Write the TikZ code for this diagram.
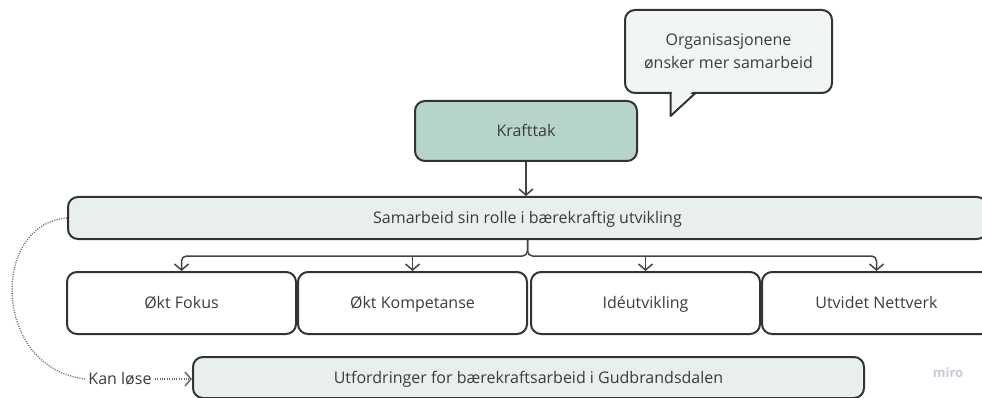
\documentclass[tikz,border=0pt]{standalone}
\usepackage{fontspec}
\setmainfont{Open Sans}
\usetikzlibrary{arrows.meta}
\definecolor{txt}{HTML}{3C3C3C}
\definecolor{edge}{HTML}{333333}
\definecolor{conncol}{HTML}{444444}
\definecolor{kraftfill}{HTML}{B6D3CC}
\definecolor{barfill}{HTML}{E9EFEE}
\definecolor{bubblefill}{HTML}{F1F5F5}
\definecolor{dotcol}{HTML}{6A6A6A}
\definecolor{mirocol}{HTML}{C9C9D9}
\tikzset{
  shell/.style={draw=edge, line width=2pt, rounded corners=10pt, text=txt,
    font=\fontsize{16}{19}\selectfont, inner sep=0pt, anchor=center},
  box/.style={shell, text height=14pt, text depth=2.4pt},
  conn/.style={draw=conncol, line width=1.5pt,
    -{Straight Barb[length=6pt,width=14pt,line width=1.5pt]}},
  dotline/.style={draw=dotcol, line width=1.4pt, dash pattern=on 1pt off 1.4pt},
}
\begin{document}
\begin{tikzpicture}[x=1pt,y=-1pt]
\useasboundingbox (0,0) rectangle (982,398);
% speech bubble
\node[shell, fill=bubblefill, minimum width=207pt, minimum height=83pt, align=center] (bubble) at (728.5,51.5) {Organisasjonene\\[4pt]ønsker mer samarbeid};
\fill[bubblefill] (671.5,91) -- (671.5,114) -- (693,91) -- cycle;
\draw[edge, line width=2pt, line join=round] (670.5,92.5) -- (670.5,116) -- (696,92.5);
% Krafttak
\node[box, fill=kraftfill, minimum width=222pt, minimum height=60pt] (kraft) at (526,131) {Krafttak};
% Samarbeid bar
\node[box, fill=barfill, minimum width=919pt, minimum height=42pt] (samarbeid) at (527.5,218) {Samarbeid sin rolle i bærekraftig utvikling};
\draw[conn] (kraft.south) -- (samarbeid.north -| kraft.south);
% four boxes
\node[box, minimum width=229pt, minimum height=62pt] (b1) at (181.5,303) {Økt Fokus};
\node[box, minimum width=229pt, minimum height=62pt] (b2) at (412.5,303) {Økt Kompetanse};
\node[box, minimum width=229pt, minimum height=62pt] (b3) at (645.5,303) {Idéutvikling};
\node[box, minimum width=229pt, minimum height=62pt] (b4) at (876.5,303) {Utvidet Nettverk};
\coordinate (br) at (527.5,256);
\draw[conn, rounded corners=5pt] (samarbeid.south) |- (b1.north |- br) -- (b1.north);
\draw[conn, rounded corners=5pt] (samarbeid.south) |- (b4.north |- br) -- (b4.north);
\draw[conn] (b2.north |- br) -- (b2.north);
\draw[conn] (b3.north |- br) -- (b3.north);
% bottom bar
\node[box, fill=barfill, minimum width=671pt, minimum height=41pt] (utf) at (528.5,377.5) {Utfordringer for bærekraftsarbeid i Gudbrandsdalen};
% Kan loese
\node[text=txt, font=\fontsize{16}{19}\selectfont, inner sep=3pt, text height=14pt, text depth=2.4pt] (kan) at (120,379) {Kan løse};
\draw[dotline] (samarbeid.west) .. controls (-10,224) and (-8,368) .. (kan.west);
\draw[dotline, -{Straight Barb[length=6pt,width=14pt,line width=1.5pt]}] (kan.east) -- (utf.west |- kan.east);
% watermark
\node[text=mirocol, font=\fontsize{13}{15}\selectfont\bfseries] (miro) at (948,373) {miro};
\end{tikzpicture}
\end{document}
